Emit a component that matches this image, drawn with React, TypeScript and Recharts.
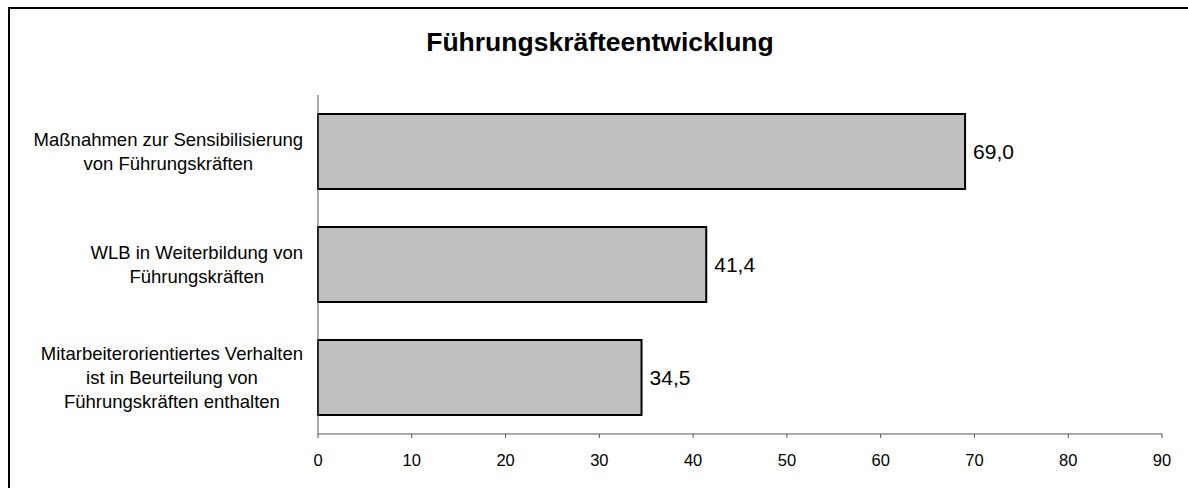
import React from 'react'
import { BarChart, Bar, XAxis, YAxis, LabelList } from 'recharts'

const categories = [
  'Maßnahmen zur Sensibilisierung\nvon Führungskräften',
  'WLB in Weiterbildung von\nFührungskräften',
  'Mitarbeiterorientiertes Verhalten\nist in Beurteilung von\nFührungskräften enthalten',
]
const values = [69.0, 41.4, 34.5]
const xTicks = [0, 10, 20, 30, 40, 50, 60, 70, 80, 90]

const FONT = '"Liberation Sans", Arial, sans-serif'
const LABEL_SIZE = 18.5
const LABEL_RIGHT = 303

let ctx: CanvasRenderingContext2D | null = null
function textWidth(s: string) {
  if (!ctx) ctx = document.createElement('canvas').getContext('2d')
  if (!ctx) return s.length * 9
  ctx.font = `${LABEL_SIZE}px ${FONT}`
  return ctx.measureText(s).width
}

// multi-line category label, lines centered, block right-aligned
function CategoryTick(props: any) {
  const { y, payload } = props
  const lines: string[] = String(payload.value).split('\n')
  const w = Math.max(...lines.map(textWidth))
  const cx = LABEL_RIGHT - w / 2
  const lh = 24
  const y0 = y - ((lines.length - 1) * lh) / 2
  return (
    <text x={cx} y={y0} textAnchor="middle" fontSize={LABEL_SIZE} fontFamily={FONT} fill="#000">
      {lines.map((l, i) => (
        <tspan key={i} x={cx} y={y0 + i * lh} dy="0.36em">
          {l}
        </tspan>
      ))}
    </text>
  )
}

const data = categories.map((name, i) => ({ name, value: values[i] }))

export default function App() {
  return (
    <div style={{ position: 'absolute', left: 0, top: 0, width: 1188, height: 488, background: '#fff', fontFamily: FONT }}>
      <div
        style={{
          position: 'absolute',
          left: 8,
          top: 7,
          width: 1200,
          height: 500,
          borderLeft: '2px solid #000',
          borderTop: '2px solid #000',
        }}
      />
      <div
        style={{
          position: 'absolute',
          left: 0,
          width: 1200,
          top: 27,
          textAlign: 'center',
          fontSize: 26.5,
          fontWeight: 'bold',
          lineHeight: '30px',
          color: '#000',
        }}
      >
        Führungskräfteentwicklung
      </div>
      <div style={{ position: 'absolute', left: 0, top: 0 }}>
        <BarChart
          width={1188}
          height={488}
          data={data}
          layout="vertical"
          margin={{ top: 95, right: 26, left: 8, bottom: 24 }}
        >
          <XAxis
            type="number"
            domain={[0, 90]}
            ticks={xTicks}
            interval={0}
            height={30}
            stroke="#555"
            tickSize={4}
            tickMargin={16}
            tick={{ fontSize: 16.5, fill: '#000', fontFamily: FONT }}
          />
          <YAxis
            type="category"
            dataKey="name"
            width={310}
            stroke="#555"
            tickLine={false}
            tick={<CategoryTick />}
          />
          <Bar dataKey="value" fill="#c0c0c0" stroke="#000" strokeWidth={2} barSize={75} isAnimationActive={false}>
            <LabelList
              dataKey="value"
              position="right"
              offset={8}
              formatter={(v: any) => Number(v).toFixed(1).replace('.', ',')}
              style={{ fontSize: 21, fill: '#000', fontFamily: FONT }}
            />
          </Bar>
        </BarChart>
      </div>
    </div>
  )
}
